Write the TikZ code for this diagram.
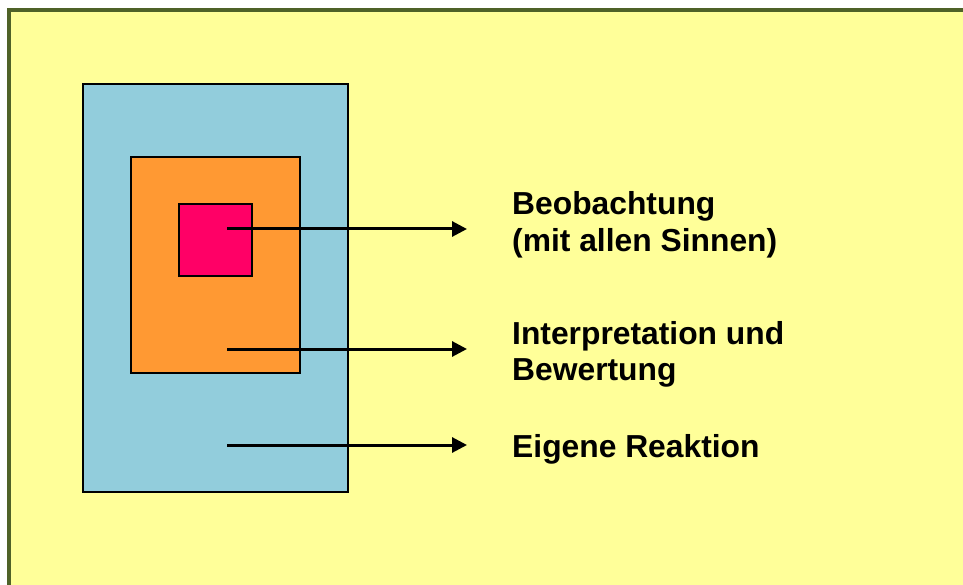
\documentclass[tikz,border=0pt]{standalone}
\usepackage{fontspec}
\setmainfont{Liberation Sans}
\usetikzlibrary{arrows.meta}
\definecolor{bgyellow}{HTML}{FFFF99}
\definecolor{frameolive}{HTML}{4F6228}
\definecolor{boxblue}{HTML}{92CDDC}
\definecolor{boxorange}{HTML}{FF9933}
\definecolor{boxred}{HTML}{FF0066}
\tikzset{
  layerbox/.style={draw=black, line width=1.4pt, rectangle, inner sep=0pt},
  pointer/.style={draw=black, line width=3pt, -{Triangle[length=15pt,width=15pt]}},
  lbl/.style={anchor=base west, align=left, inner sep=0pt,
    font=\fontsize{31.8}{36.5}\selectfont\bfseries}
}
\begin{document}
\begin{tikzpicture}[x=1pt,y=-1pt]
\useasboundingbox (0,0) rectangle (963,585);
\fill[white] (0,0) rectangle (963,585);
\begin{scope}
  \clip (0,0) rectangle (963,585);
  \draw[draw=frameolive, line width=4pt, fill=bgyellow] (9,10) rectangle (995,615);
\end{scope}
\node[layerbox, fill=boxblue, minimum width=265pt, minimum height=408pt] (outer) at (215.5,288) {};
\node[layerbox, fill=boxorange, minimum width=169pt, minimum height=216pt] (middle) at (215.5,265) {};
\node[layerbox, fill=boxred, minimum width=73pt, minimum height=72pt] (inner) at (215.5,240) {};
\coordinate (s1) at (227,229);
\coordinate (e1) at (467,229);
\coordinate (s2) at (227,349);
\coordinate (e2) at (467,349);
\coordinate (s3) at (227,445);
\coordinate (e3) at (467,445);
\draw[pointer] (s1) -- (e1);
\draw[pointer] (s2) -- (e2);
\draw[pointer] (s3) -- (e3);
\node[lbl] (t1) at (512,251.5) {Beobachtung\\(mit allen Sinnen)};
\node[lbl] (t2) at (512,380.5) {Interpretation und\\Bewertung};
\node[lbl] (t3) at (512,457.5) {Eigene Reaktion};
\end{tikzpicture}
\end{document}
